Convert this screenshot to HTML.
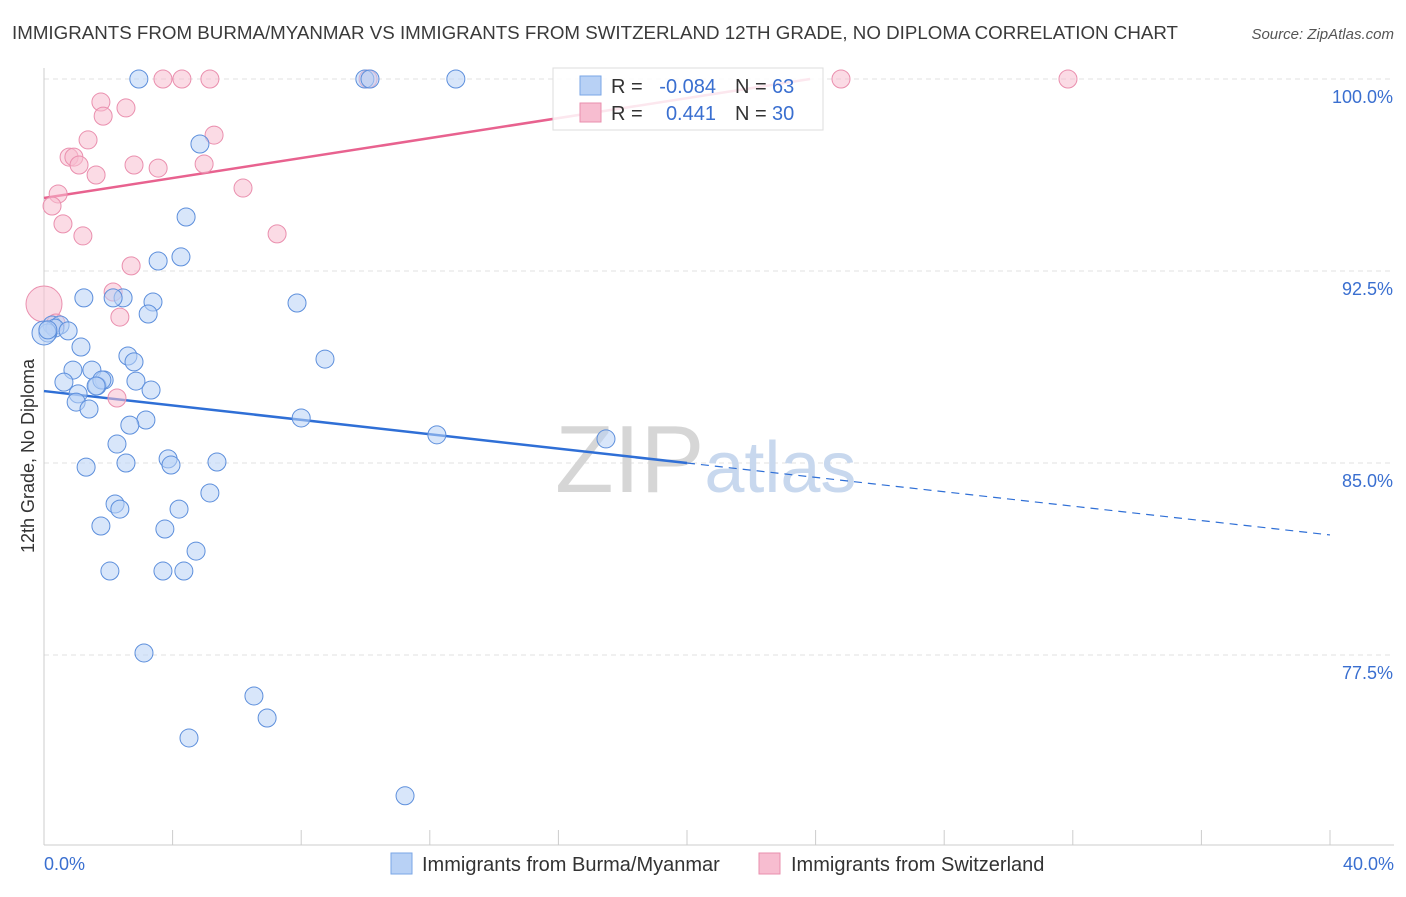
<!DOCTYPE html>
<html><head><meta charset="utf-8"><style>
body{margin:0;background:#fff;font-family:"Liberation Sans",sans-serif;}
svg text{font-family:"Liberation Sans",sans-serif;}
</style></head><body>
<svg id="chart" width="1406" height="892" viewBox="0 0 1406 892">
<text x="12" y="39" font-size="18" fill="#3a3a3a" textLength="1166" lengthAdjust="spacingAndGlyphs">IMMIGRANTS FROM BURMA/MYANMAR VS IMMIGRANTS FROM SWITZERLAND 12TH GRADE, NO DIPLOMA CORRELATION CHART</text>
<text x="1394" y="39" font-size="15" fill="#555" font-style="italic" text-anchor="end">Source: ZipAtlas.com</text>
<text x="34" y="456" font-size="18" fill="#333" text-anchor="middle" transform="rotate(-90 34 456)">12th Grade, No Diploma</text>
<g id="grid"></g>
<text x="555" y="492" font-size="96" fill="#ddd" font-family="Liberation Serif"><tspan fill="#d6d6d6">ZIP</tspan><tspan fill="#c8d8ee" font-family="Liberation Sans" font-size="72">atlas</tspan></text>
<g id="lines"></g>
<g id="points"></g>
<g>
<rect x="553" y="68" width="270" height="62" fill="#fff" fill-opacity="0.85" stroke="#ddd"/>
<rect x="580" y="76" width="21" height="19" fill="#b8d1f5" stroke="#7aa6e6"/>
<text x="611" y="93" font-size="20" fill="#333">R =</text>
<text x="716" y="93" font-size="20" fill="#3a6fd0" text-anchor="end">-0.084</text>
<text x="735" y="93" font-size="20" fill="#333">N =</text>
<text x="772" y="93" font-size="20" fill="#3a6fd0">63</text>
<rect x="580" y="103" width="21" height="19" fill="#f7bdd0" stroke="#ea8fae"/>
<text x="611" y="120" font-size="20" fill="#333">R =</text>
<text x="716" y="120" font-size="20" fill="#3a6fd0" text-anchor="end">0.441</text>
<text x="735" y="120" font-size="20" fill="#333">N =</text>
<text x="772" y="120" font-size="20" fill="#3a6fd0">30</text>
</g>
<g>
<rect x="391" y="853" width="21" height="21" fill="#b8d1f5" stroke="#7aa6e6"/>
<text x="422" y="871" font-size="20" fill="#333">Immigrants from Burma/Myanmar</text>
<rect x="759" y="853" width="21" height="21" fill="#f7bdd0" stroke="#ea8fae"/>
<text x="791" y="871" font-size="20" fill="#333">Immigrants from Switzerland</text>
</g>
</svg>
<script>
const yTicks=[100,92.5,85,77.5];
const yTickLabels=["100.0%","92.5%","85.0%","77.5%"];
const xTickLabels=["0.0%","40.0%"];
const blueX=[2.95,9.98,12.81,4.85,4.42,4.26,3.55,1.24,2.46,3.39,2.15,3.24,7.87,0.25,0.5,0.34,0.75,0.12,1.15,2.61,2.8,8.74,1.49,0.9,1.87,2.86,0.62,1.65,3.33,1.06,1.0,1.4,3.17,2.67,8.0,12.22,17.48,2.27,3.86,1.31,2.55,3.95,5.38,5.16,2.21,2.36,4.2,1.77,3.76,4.73,2.05,3.7,4.35,3.11,6.53,6.94,4.51,11.23,0.0,1.8,10.14,1.62,0.12];
const blueY=[100,100,100,97.46,94.61,93.05,92.89,91.45,91.45,91.29,91.45,90.82,91.25,90.39,90.39,90.27,90.16,90.08,89.53,89.18,88.95,89.06,88.63,88.63,88.24,88.2,88.16,88.01,87.85,87.7,87.38,87.11,86.68,86.48,86.76,86.1,85.94,85.74,85.16,84.84,85.0,84.92,85.04,83.83,83.4,83.2,83.2,82.54,82.42,81.56,80.78,80.78,80.78,77.58,75.9,75.04,74.26,72.0,90.08,88.24,100,88.01,90.2];
const pinkX=[3.7,4.29,5.16,10.08,24.79,31.85,1.77,2.55,1.84,1.37,5.29,0.78,0.93,1.09,1.62,2.8,3.55,4.98,6.19,0.44,0.25,0.59,1.21,7.25,2.71,2.15,2.36,2.27,0.0,0.37];
const pinkY=[100,100,100,100,100,100,99.1,98.87,98.55,97.62,97.81,96.95,96.95,96.64,96.25,96.64,96.52,96.68,95.74,95.51,95.04,94.34,93.87,93.95,92.7,91.68,90.7,87.54,91.21,90.47];
const L=44,R=1330,T=79,B=655;
const xs=v=>L+(v/40)*(R-L);
const ys=v=>T+(100-v)/(100-77.5)*(B-T);
const NS="http://www.w3.org/2000/svg";
function mk(tag,attrs,parent){const e=document.createElementNS(NS,tag);for(const k in attrs)e.setAttribute(k,attrs[k]);parent.appendChild(e);return e;}
const g=document.getElementById('grid');
yTicks.forEach((t,i)=>{
 const l=mk('line',{x1:44,x2:1394,y1:ys(t),y2:ys(t),stroke:'#e2e2e2','stroke-dasharray':'5,4'},g);
 
 
 const tx=mk('text',{x:1393,y:ys(t)+24,'font-size':18,fill:'#3a6fd0','text-anchor':'end'},g);
 tx.textContent=yTickLabels[i];
 
 
});
const ax=mk('line',{x1:44,x2:44,y1:68,y2:845,stroke:'#ccc'},g);


const bx=mk('line',{x1:44,x2:1394,y1:845,y2:845,stroke:'#ccc'},g);


for(let i=0;i<=10;i++){const t=mk('line',{x1:xs(i*4),x2:xs(i*4),y1:830,y2:845,stroke:'#ccc'},g);
 
 }
[[0,'start',44],[40,'end',1394]].forEach((d,i)=>{const t=mk('text',{x:d[2],y:870,'font-size':18,fill:'#3a6fd0','text-anchor':d[1]},g);t.textContent=xTickLabels[i];
 
 });
const lg=document.getElementById('lines');
const bl=mk('line',{x1:xs(0),y1:ys(87.81),x2:xs(20),y2:ys(87.81-20*0.1405),stroke:'#2f6fd6','stroke-width':2.5},lg);


const bd=mk('line',{x1:xs(20),y1:ys(87.81-20*0.1405),x2:xs(40),y2:ys(87.81-40*0.1405),stroke:'#2f6fd6','stroke-width':1.2,'stroke-dasharray':'8,6'},lg);


const pl=mk('line',{x1:xs(0),y1:ys(95.35),x2:xs(23.83),y2:ys(100),stroke:'#e8628f','stroke-width':2.5},lg);


const pg=document.getElementById('points');
pinkX.forEach((x,i)=>{const r=(i===28)?18:9;const c=mk('circle',{cx:xs(x),cy:ys(pinkY[i]),r:r,fill:'#f7bdd0','fill-opacity':0.55,stroke:'#ea8fae','stroke-width':1},pg);
 
 });
blueX.forEach((x,i)=>{const r=(i===58)?12:9;const c=mk('circle',{cx:xs(x),cy:ys(blueY[i]),r:r,fill:'#b8d1f5','fill-opacity':0.55,stroke:'#5d8fdc','stroke-width':1},pg);
 
 });
</script>
</body></html>
